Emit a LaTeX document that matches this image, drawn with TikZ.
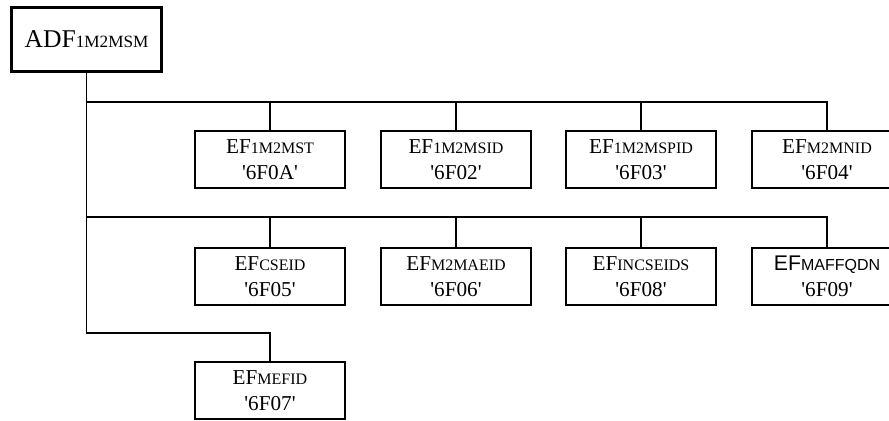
\documentclass[tikz,border=0pt]{standalone}
\usepackage{fontspec}
\setmainfont{Liberation Serif}
\newfontfamily\arialfont{Liberation Sans}
\usetikzlibrary{positioning}

\newcommand{\efname}[2]{#1{\fontsize{8}{8}\selectfont #2}}
\newcommand{\fid}[1]{\textquotesingle#1\textquotesingle}

\begin{document}
\begin{tikzpicture}[
        x=0.5pt, y=-0.5pt,
        line/.style={line width=0.8pt},
        efbox/.style={draw, line width=0.8pt, minimum width=75pt, minimum height=28.5pt,
          inner sep=0pt, align=center, font=\fontsize{10.6}{13}\selectfont},
        rootbox/.style={draw, line width=1.7pt, minimum width=75pt, minimum height=32pt,
          inner sep=0pt, font=\fontsize{12.8}{15}\selectfont}
      ]
      \clip (0,0) rectangle (889,420);
      \node[rootbox] (adf) at (86.5,39.5) {ADF{\fontsize{8.6}{9}\selectfont 1M2MSM}};

      % first row
      \node[efbox] (mst) at (270,159.5) {\efname{EF}{1M2MST}\\\fid{6F0A}};
      \node[efbox] (msid) at (456,159.5) {\efname{EF}{1M2MSID}\\\fid{6F02}};
      \node[efbox] (mspid) at (641,159.5) {\efname{EF}{1M2MSPID}\\\fid{6F03}};
      \node[efbox] (mnid) at (827,159.5) {\efname{EF}{M2MNID}\\\fid{6F04}};

      % second row
      \node[efbox] (cseid) at (270,276.5) {\efname{EF}{CSEID}\\\fid{6F05}};
      \node[efbox] (maeid) at (456,276.5) {\efname{EF}{M2MAEID}\\\fid{6F06}};
      \node[efbox] (incs) at (641,276.5) {\efname{EF}{INCSEIDS}\\\fid{6F08}};
      \node[efbox] (maff) at (827,276.5) {{\arialfont\efname{EF}{MAFFQDN}}\\\fid{6F09}};

      % third row
      \node[efbox] (mefid) at (270,390.5) {\efname{EF}{MEFID}\\\fid{6F07}};

      \coordinate (b1) at (86.5,102);
      \coordinate (b2) at (86.5,217);
      \coordinate (b3) at (86.5,333);

      \draw[line] (adf.south) -- (b3) -| (mefid.north);
      \foreach \n in {mst,msid,mspid,mnid}
        \draw[line] (b1) -| (\n.north);
      \foreach \n in {cseid,maeid,incs,maff}
        \draw[line] (b2) -| (\n.north);
    \end{tikzpicture}
\end{document}
